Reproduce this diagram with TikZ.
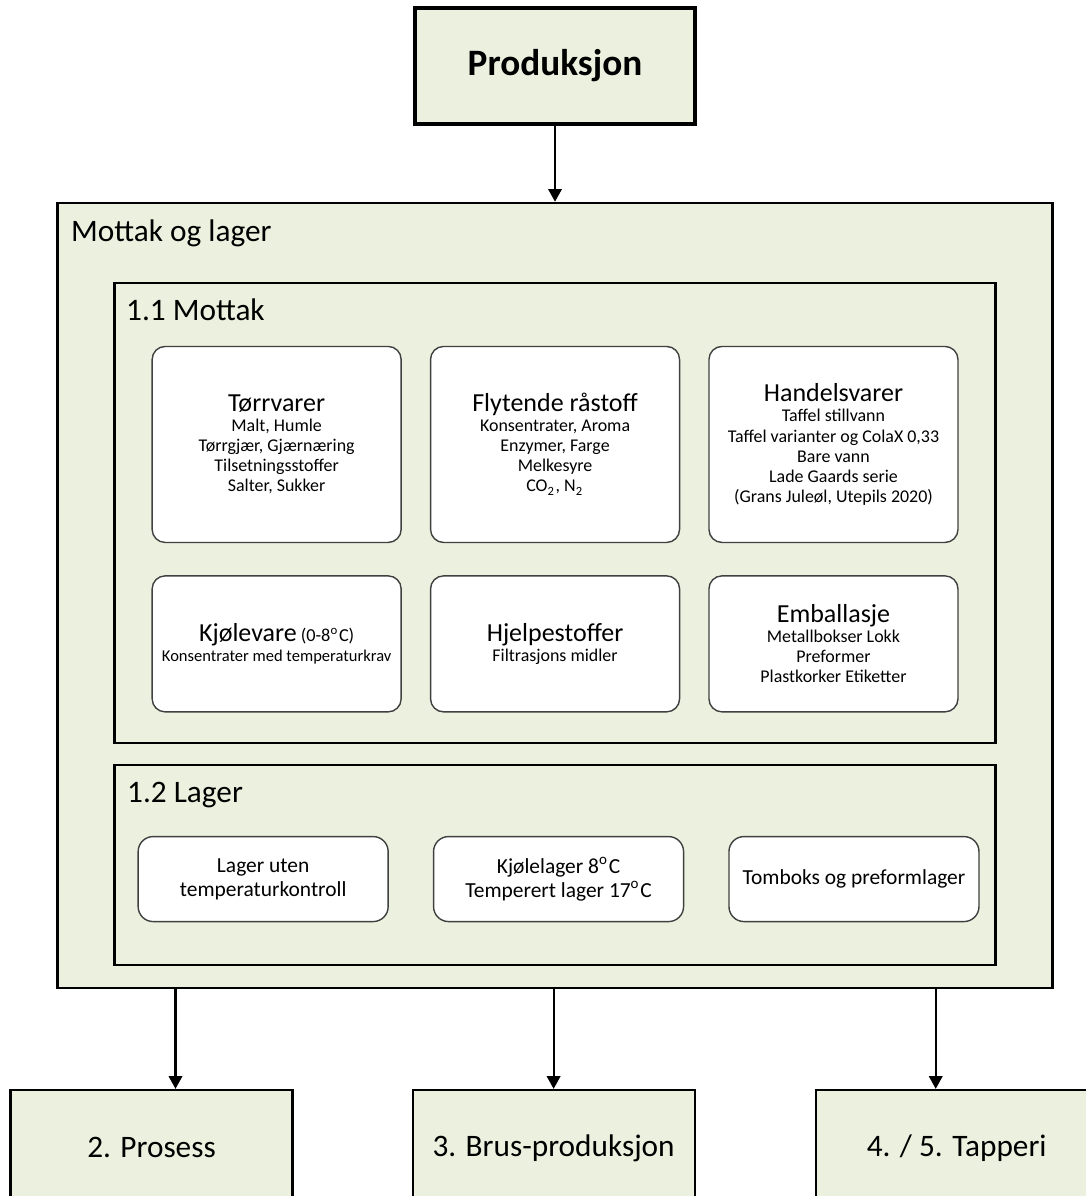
\documentclass[tikz,border=0pt]{standalone}
\usepackage{fontspec}
\setmainfont{Carlito}
\usetikzlibrary{positioning, arrows.meta, calc}
\definecolor{boxgreen}{RGB}{235,241,222}
\newcommand{\itemhead}[1]{{\fontsize{7.4}{8}\selectfont #1}}
\tikzset{
	>={Triangle[length=3.6pt,width=3.8pt]},
	node distance=0.28cm,
	arr/.style={draw, ->, line width=0.6pt},
	grpbox/.style={draw, line width=0.6pt, fill=boxgreen, inner sep=0pt},
	grptitle/.style={anchor=base west, inner sep=0pt, font=\fontsize{8.9}{10}\selectfont},
	procbox/.style={grpbox, minimum width=2.82cm, minimum height=1.16cm, font=\fontsize{8.9}{10}\selectfont},
	itembox/.style={draw=black!75, line width=0.4pt, fill=white, rounded corners=0.13cm,
		minimum width=2.49cm, align=center, inner sep=0pt, font=\fontsize{5.1}{5.7}\selectfont},
	storebox/.style={itembox, minimum width=2.5cm, minimum height=0.85cm,
		rounded corners=0.15cm, font=\fontsize{6.1}{6.9}\selectfont},
	baseline}

\begin{document}
\begin{tikzpicture}
		\useasboundingbox (0,0) rectangle (10.85,-11.96);
		
		%Top
		\node[procbox, line width=1pt, minimum width=2.8cm, font=\fontsize{10.6}{12}\bfseries\selectfont] (prod) at (5.55,-0.66) {Produksjon};
		
		%Mottak og lager
		\node[grpbox, minimum width=9.95cm, minimum height=7.85cm, below=0.76cm of prod] (mol) {};
		\node[grptitle] (moltitle) at ([shift={(0.14,-0.40)}]mol.north west) {Mottak og lager};
		
		\node[grpbox, minimum width=8.81cm, minimum height=4.6cm, below=0.8cm of mol.north] (mottak) {};
		\node[grptitle] (mottaktitle) at ([shift={(0.12,-0.39)}]mottak.north west) {1.1 Mottak};
		
		\node[grpbox, minimum width=8.81cm, minimum height=2cm, below=0.2cm of mottak] (lager) {};
		\node[grptitle] (lagertitle) at ([shift={(0.13,-0.39)}]lager.north west) {1.2 Lager};
		
		%1.1 Mottak
		\node[itembox, minimum height=1.96cm, below right=0.64cm and 0.38cm of mottak.north west] (torr)
			{\itemhead{Tørrvarer}\\Malt, Humle\\Tørrgjær, Gjærnæring\\Tilsetningsstoffer\\Salter, Sukker};
		\node[itembox, minimum height=1.96cm, right=of torr] (flyt)
			{\itemhead{Flytende råstoff}\\Konsentrater, Aroma\\Enzymer, Farge\\Melkesyre\\CO\textsubscript{2}, N\textsubscript{2}};
		\node[itembox, minimum height=1.96cm, right=of flyt] (handel)
			{\itemhead{Handelsvarer}\\Taffel stillvann\\Taffel varianter og ColaX 0,33\\Bare vann\\Lade Gaards serie\\(Grans Juleøl, Utepils 2020)};
		
		\node[itembox, minimum height=1.36cm, below=0.32cm of torr] (kjol)
			{\itemhead{Kjølevare} {\fontsize{5.2}{6}\selectfont(0-8\textsuperscript{o}C)}\\{\fontsize{4.7}{5.7}\selectfont Konsentrater med temperaturkrav}};
		\node[itembox, minimum height=1.36cm, right=of kjol] (hjelp)
			{\itemhead{Hjelpestoffer}\\Filtrasjons midler};
		\node[itembox, minimum height=1.36cm, right=of hjelp] (emball)
			{\itemhead{Emballasje}\\Metallbokser Lokk\\Preformer\\Plastkorker Etiketter};
		
		%1.2 Lager
		\node[storebox, below right=0.72cm and 0.24cm of lager.north west] (lager1) {Lager uten\\temperaturkontroll};
		\node[storebox, right=0.44cm of lager1] (kjlager) {Kjølelager 8\textsuperscript{o}C\\Temperert lager 17\textsuperscript{o}C};
		\node[storebox, right=0.44cm of kjlager] (tomboks) {Tomboks og preformlager};
		
		%Bottom
		\node[procbox, below right=1cm and -0.47cm of mol.south west] (prosess) {2. Prosess};
		\node[procbox, right=1.18cm of prosess] (brus) {3. Brus-produksjon};
		\node[procbox, right=1.19cm of brus] (tapperi) {4. / 5. Tapperi};
		
		\coordinate (toprosess) at ([xshift=0.24cm]prosess.north);
		\coordinate (totapperi) at ([xshift=-0.21cm]tapperi.north);
		
		\path
		(prod) edge[arr] (mol)
		(toprosess |- mol.south) edge[arr] (toprosess)
		(brus.north |- mol.south) edge[arr] (brus)
		(totapperi |- mol.south) edge[arr] (totapperi)
		;
	\end{tikzpicture}
\end{document}
